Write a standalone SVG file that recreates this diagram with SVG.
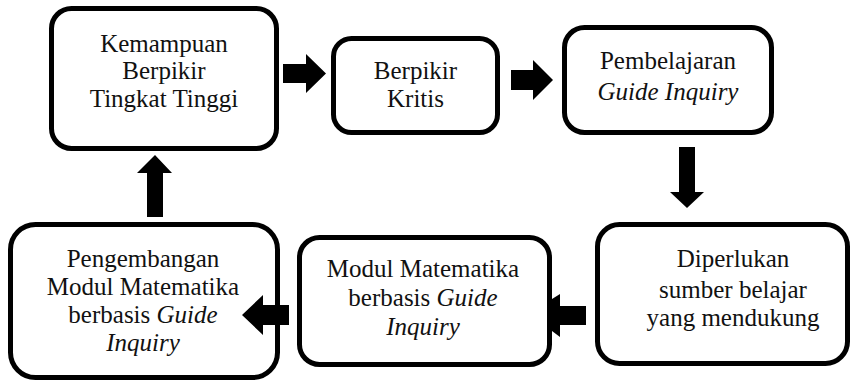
<svg xmlns="http://www.w3.org/2000/svg" width="851" height="384" viewBox="0 0 851 384">
<style>
.box{fill:#fff;stroke:#000;stroke-width:5}
.t{font-size:25px;fill:#111;text-anchor:middle}
.i{font-style:italic}
.arr{fill:#000}
</style>
<rect width="851" height="384" fill="#fff"/>
<g id="node-kemampuan">
<rect class="box" x="51.5" y="8.5" width="225" height="140" rx="20"/>
<g font-family="'Liberation Serif', 'Times New Roman', serif">
<text class="t" x="164" y="52">Kemampuan</text>
<text class="t" x="164" y="79">Berpikir</text>
<text class="t" x="164" y="107">Tingkat Tinggi</text>
</g>
</g>
<g id="node-kritis" font-family="'Liberation Serif', 'Times New Roman', serif">
<rect class="box" x="333.5" y="38.5" width="164" height="94" rx="18"/>
<text class="t" x="415.5" y="79">Berpikir</text>
<text class="t" x="415.5" y="107">Kritis</text>
</g>
<g id="node-pembelajaran" font-family="'Liberation Serif', 'Times New Roman', serif">
<rect class="box" x="564.5" y="27.5" width="207" height="105" rx="20"/>
<text class="t" x="668" y="69">Pembelajaran</text>
<text class="t i" x="668" y="100">Guide Inquiry</text>
</g>
<g id="node-diperlukan" font-family="'Liberation Serif', 'Times New Roman', serif">
<rect class="box" x="597.5" y="224.5" width="250" height="139" rx="22"/>
<text class="t" x="733" y="267">Diperlukan</text>
<text class="t" x="733" y="298">sumber belajar</text>
<text class="t" x="733" y="326">yang mendukung</text>
</g>
<g id="node-modul" font-family="'Liberation Serif', 'Times New Roman', serif">
<rect class="box" x="299.5" y="237.5" width="250" height="127" rx="20"/>
<text class="t" x="423" y="277">Modul Matematika</text>
<text class="t" x="423" y="306">berbasis <tspan class="i">Guide</tspan></text>
<text class="t i" x="423" y="335">Inquiry</text>
</g>
<g id="node-pengembangan" font-family="'Liberation Serif', 'Times New Roman', serif">
<rect class="box" x="10.5" y="224.5" width="267" height="153" rx="25"/>
<text class="t" x="143" y="267">Pengembangan</text>
<text class="t" x="143" y="295">Modul Matematika</text>
<text class="t" x="143" y="323">berbasis <tspan class="i">Guide</tspan></text>
<text class="t i" x="143" y="351">Inquiry</text>
</g>
<g id="connectors">
<polygon class="arr" points="283,64 306,64 306,54 326,73.5 306,93 306,83 283,83"/>
<polygon class="arr" points="511,70 533,70 533,60 553,80 533,100 533,90 511,90"/>
<polygon class="arr" points="679,147 695,147 695,192 704,192 687,208 670,192 679,192"/>
<polygon class="arr" points="586,306 560,306 560,294 552,299 552,331 560,337 560,325 586,325"/>
<polygon class="arr" points="289,305 263,305 263,295 242,315 263,335 263,325 289,325"/>
<polygon class="arr" points="147,217 163,217 163,173 172,173 155,155 137,173 147,173"/>
</g>
</svg>
